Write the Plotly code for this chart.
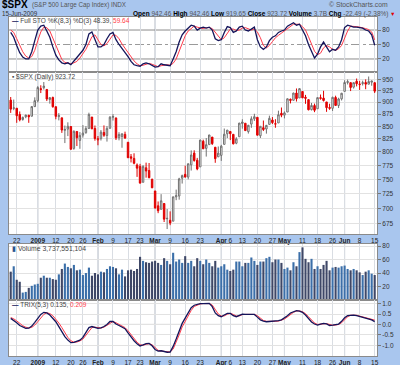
import pandas as pd
import plotly.graph_objects as go

# ---------------- data ----------------
HOLIDAYS = ['2008-12-25', '2009-01-01', '2009-01-19', '2009-02-16', '2009-04-10', '2009-05-25']
dates = [d.strftime('%Y-%m-%d') for d in pd.bdate_range('2008-12-18', '2009-06-15')
         if d.strftime('%Y-%m-%d') not in HOLIDAYS]

opens = [904.36, 886.96, 887.20, 874.31, 863.87, 869.51, 872.37, 870.58, 890.59, 902.99,
         929.17, 931.17, 927.45, 905.73, 909.91, 890.40, 869.79, 867.28, 841.99, 844.45,
         849.64, 806.77, 839.74, 822.16, 832.50, 837.30, 845.73, 868.89, 845.69, 823.09,
         825.69, 837.77, 831.75, 846.09, 868.24, 866.87, 827.41, 829.91, 833.95, 818.61,
         791.06, 787.91, 775.87, 773.25, 744.69, 770.64, 765.76, 749.93, 729.57, 704.44,
         698.60, 708.27, 684.04, 680.76, 679.28, 719.59, 720.89, 751.97, 758.84, 753.88,
         776.01, 797.92, 784.58, 772.31, 820.60, 806.81, 814.06, 828.68, 809.07, 790.88,
         793.59, 814.53, 835.13, 839.75, 834.12, 816.76, 829.29, 855.79, 856.24, 839.44,
         854.54, 865.18, 868.27, 831.25, 847.26, 844.62, 853.91, 862.82, 854.48, 856.85,
         876.59, 872.74, 879.21, 906.10, 903.95, 919.58, 909.03, 922.99, 910.52, 905.40,
         884.24, 892.76, 886.07, 909.67, 908.62, 900.42, 888.68, 887.00, 909.95, 892.96,
         907.02, 923.26, 942.87, 942.51, 932.49, 945.67, 938.12, 940.35, 942.73, 939.04,
         943.44, 942.45]
highs = [911.02, 905.47, 887.37, 880.44, 869.79, 873.74, 873.70, 891.12, 910.32, 934.73,
         936.63, 943.85, 927.45, 910.00, 911.93, 890.40, 877.02, 867.28, 851.59, 858.13,
         849.64, 841.72, 839.74, 838.61, 852.53, 850.45, 877.86, 868.89, 851.66, 830.78,
         842.60, 851.85, 850.55, 870.75, 875.01, 868.05, 838.22, 835.48, 839.43, 818.61,
         796.17, 797.58, 778.69, 777.85, 775.49, 780.12, 779.42, 751.27, 729.57, 711.67,
         724.12, 708.27, 699.09, 695.27, 719.60, 731.92, 752.63, 758.29, 774.53, 778.12,
         803.04, 803.24, 788.91, 823.37, 823.65, 826.78, 832.98, 828.68, 809.07, 810.48,
         813.62, 845.61, 842.50, 839.75, 834.12, 828.42, 856.91, 864.31, 856.24, 852.93,
         870.35, 875.63, 868.27, 850.09, 861.78, 852.87, 871.80, 868.83, 864.48, 882.06,
         888.70, 880.48, 907.85, 907.70, 920.28, 929.58, 930.17, 922.99, 915.57, 905.40,
         898.36, 896.97, 910.00, 916.39, 924.60, 900.42, 896.65, 911.76, 913.84, 909.45,
         920.02, 947.77, 949.38, 942.51, 942.47, 951.69, 946.33, 946.92, 949.77, 956.23,
         946.30, 942.45]
lows = [877.44, 883.02, 857.09, 860.10, 861.44, 866.52, 857.07, 870.58, 889.67, 899.35,
        919.53, 927.28, 902.37, 896.81, 888.31, 864.32, 862.02, 836.93, 817.04, 830.66,
        804.47, 804.30, 811.29, 806.07, 827.69, 835.40, 845.73, 844.15, 821.67, 812.87,
        821.98, 829.18, 819.91, 845.42, 861.65, 822.99, 822.30, 808.06, 825.21, 789.17,
        780.43, 777.03, 754.25, 742.37, 744.69, 752.89, 751.75, 734.52, 699.70, 692.30,
        698.60, 677.93, 666.79, 672.88, 679.28, 713.85, 714.76, 742.46, 753.37, 749.93,
        765.64, 781.82, 766.20, 772.31, 805.48, 791.37, 814.06, 813.43, 779.81, 790.88,
        783.32, 814.53, 826.70, 822.79, 814.53, 814.84, 829.29, 845.35, 840.57, 835.58,
        847.04, 860.87, 832.39, 826.83, 840.57, 835.45, 853.91, 854.65, 847.12, 856.85,
        868.51, 866.10, 879.21, 897.34, 903.95, 901.36, 909.03, 908.68, 896.46, 882.80,
        882.52, 878.94, 886.07, 905.22, 901.37, 879.61, 883.75, 881.46, 891.87, 887.60,
        903.56, 923.26, 938.46, 923.85, 929.32, 934.13, 926.44, 936.15, 927.97, 939.04,
        935.66, 919.65]
closes = [885.28, 887.88, 871.63, 863.16, 868.15, 872.80, 869.42, 890.64, 903.25, 931.80,
          927.45, 934.70, 906.65, 909.73, 890.35, 870.26, 871.79, 842.62, 843.74, 850.12,
          805.22, 840.24, 827.50, 831.95, 836.57, 845.71, 874.09, 845.14, 825.88, 825.44,
          838.51, 832.23, 845.85, 868.60, 869.89, 827.16, 833.74, 835.19, 826.84, 789.17,
          788.42, 778.94, 770.05, 743.33, 773.14, 764.90, 752.83, 735.09, 700.82, 696.33,
          712.87, 682.55, 683.38, 676.53, 719.60, 721.36, 750.74, 756.55, 753.89, 778.12,
          794.35, 784.04, 768.54, 822.92, 806.12, 813.88, 832.86, 815.94, 787.53, 797.87,
          811.08, 834.38, 842.50, 835.48, 815.55, 825.16, 856.56, 858.73, 841.50, 852.06,
          865.30, 869.60, 832.39, 850.08, 843.55, 851.92, 866.23, 857.51, 855.16, 873.64,
          872.81, 877.52, 907.24, 903.80, 919.53, 907.39, 929.23, 909.24, 908.35, 883.92,
          893.07, 882.88, 909.71, 908.13, 903.47, 888.33, 887.00, 910.33, 893.06, 906.83,
          919.14, 942.87, 944.74, 931.76, 942.46, 940.09, 939.14, 942.43, 939.15, 944.89,
          946.21, 923.72]
PREV_CLOSE0 = 904.42

# volume in hundreds of millions (axis units)
volume = [42, 50, 30, 27, 11, 12, 18, 21, 23, 24,
          33, 36, 33, 33, 31, 30, 38, 46, 54, 49,
          47, 52, 44, 45, 37, 40, 48, 36, 40, 38,
          42, 41, 46, 50, 49, 47, 38, 45, 35, 44,
          45, 43, 46, 64, 58, 56, 55, 57, 58, 55,
          52, 62, 58, 53, 70, 57, 60, 55, 65, 55,
          58, 50, 62, 58, 53, 60, 55, 50, 58, 48,
          50, 53, 45, 43, 45, 57, 57, 50, 55, 55,
          63, 58, 52, 57, 57, 62, 64, 56, 60, 60,
          55, 46, 48, 44, 56, 50, 71, 78, 61, 56,
          61, 46, 50, 46, 52, 58, 44, 48, 49, 48,
          50, 51, 46, 44, 46, 44, 41, 37, 42, 44,
          39, 37]

sto_k = [75, 65, 48, 33, 24, 20, 20, 35, 58, 80,
         88, 90, 78, 65, 45, 28, 18, 12, 10, 12,
         8, 15, 22, 30, 38, 50, 72, 76, 60, 45,
         45, 50, 62, 72, 75, 60, 50, 42, 35, 25,
         15, 8, 6, 5, 10, 12, 10, 6, 3, 4,
         10, 8, 7, 6, 20, 35, 55, 70, 78, 85,
         90, 88, 80, 84, 86, 84, 86, 80, 62, 58,
         60, 75, 87, 85, 75, 78, 86, 88, 80, 78,
         82, 86, 60, 45, 40, 45, 58, 65, 68, 75,
         78, 80, 88, 92, 95, 90, 92, 80, 68, 50,
         35, 22, 30, 45, 55, 45, 35, 40, 38, 45,
         60, 85, 90, 88, 86, 86, 85, 84, 80, 78,
         70, 48.39]
sto_d = [80, 75, 62, 48, 35, 26, 22, 25, 38, 58,
         76, 86, 85, 78, 63, 46, 30, 19, 13, 11,
         10, 12, 15, 22, 30, 40, 53, 66, 70, 60,
         50, 47, 52, 61, 70, 69, 62, 51, 42, 34,
         25, 16, 10, 6, 7, 9, 11, 9, 6, 4,
         6, 7, 8, 7, 11, 20, 37, 53, 68, 78,
         84, 88, 86, 84, 83, 85, 85, 83, 76, 67,
         60, 64, 74, 82, 82, 79, 80, 84, 85, 82,
         80, 82, 76, 64, 48, 43, 48, 56, 64, 69,
         74, 78, 82, 87, 92, 92, 92, 87, 80, 66,
         51, 36, 29, 32, 43, 48, 45, 40, 38, 41,
         48, 63, 78, 88, 88, 87, 86, 85, 83, 81,
         76, 59.64]

trix = [0.29, 0.20, 0.08, -0.05, -0.14, -0.19, -0.18, -0.08, 0.10, 0.30,
        0.48, 0.58, 0.55, 0.45, 0.30, 0.13, -0.10, -0.35, -0.58, -0.75,
        -0.87, -0.86, -0.82, -0.75, -0.62, -0.40, -0.15, -0.10, -0.15, -0.19,
        -0.16, -0.10, 0.00, 0.14, 0.14, 0.02, -0.05, -0.11, -0.20, -0.40,
        -0.60, -0.78, -0.92, -1.03, -0.98, -0.92, -0.91, -1.02, -1.20, -1.28,
        -1.26, -1.30, -1.33, -1.32, -1.05, -0.70, -0.30, 0.05, 0.30, 0.55,
        0.80, 0.92, 0.96, 1.00, 1.00, 1.00, 1.01, 0.85, 0.55, 0.42,
        0.37, 0.45, 0.53, 0.53, 0.42, 0.37, 0.45, 0.49, 0.48, 0.47,
        0.49, 0.48, 0.35, 0.22, 0.16, 0.13, 0.14, 0.15, 0.15, 0.18,
        0.22, 0.30, 0.42, 0.55, 0.62, 0.66, 0.64, 0.58, 0.45, 0.28,
        0.12, 0.02, -0.03, 0.02, 0.05, 0.03, -0.05, -0.03, -0.02, 0.02,
        0.15, 0.32, 0.42, 0.45, 0.45, 0.42, 0.38, 0.34, 0.30, 0.27,
        0.22, 0.135]
trix_sig = [0.33, 0.27, 0.17, 0.05, -0.06, -0.13, -0.17, -0.14, -0.03, 0.13,
            0.32, 0.48, 0.56, 0.52, 0.42, 0.27, 0.07, -0.15, -0.40, -0.62,
            -0.78, -0.85, -0.84, -0.79, -0.70, -0.52, -0.30, -0.15, -0.13, -0.16,
            -0.17, -0.13, -0.05, 0.07, 0.14, 0.08, 0.00, -0.08, -0.15, -0.30,
            -0.50, -0.69, -0.85, -0.97, -1.00, -0.95, -0.92, -0.97, -1.11, -1.24,
            -1.27, -1.28, -1.31, -1.32, -1.18, -0.88, -0.50, -0.12, 0.17, 0.42,
            0.67, 0.86, 0.94, 0.98, 1.00, 1.00, 1.00, 0.93, 0.70, 0.50,
            0.40, 0.41, 0.49, 0.53, 0.48, 0.40, 0.41, 0.47, 0.48, 0.48,
            0.48, 0.48, 0.42, 0.29, 0.19, 0.15, 0.14, 0.14, 0.15, 0.16,
            0.20, 0.26, 0.36, 0.48, 0.58, 0.64, 0.65, 0.61, 0.52, 0.37,
            0.20, 0.07, 0.00, 0.00, 0.03, 0.04, -0.01, -0.04, -0.03, 0.00,
            0.08, 0.23, 0.37, 0.44, 0.45, 0.44, 0.40, 0.36, 0.32, 0.28,
            0.25, 0.209]

tick_dates = ['2008-12-22', '2009-01-02', '2009-01-12', '2009-01-20', '2009-01-26', '2009-02-02',
              '2009-02-09', '2009-02-17', '2009-02-23', '2009-03-02', '2009-03-09', '2009-03-16',
              '2009-03-23', '2009-04-01', '2009-04-06', '2009-04-13', '2009-04-20', '2009-04-27',
              '2009-05-01', '2009-05-11', '2009-05-18', '2009-05-26', '2009-06-01', '2009-06-08',
              '2009-06-15']
tick_labels = ['22', '2009', '12', '20', '26', 'Feb', '9', '17', '23', 'Mar', '9', '16', '23',
               'Apr', '6', '13', '20', '27', 'May', '11', '18', '26', 'Jun', '8', '15']
month_starts = ['2009-01-02', '2009-02-02', '2009-03-02', '2009-04-01', '2009-05-01', '2009-06-01']
month_labels = {'2009', 'Feb', 'Mar', 'Apr', 'May', 'Jun'}

price_ticks = [675, 700, 725, 750, 775, 800, 825, 850, 875, 900, 925, 950]
sto_ticks = [20, 50, 80]
vol_ticks = [20, 40, 60, 80]
trix_ticks = [-1.0, -0.5, 0.0, 0.5, 1.0]

n = len(dates)
assert all(len(a) == n for a in [opens, highs, lows, closes, volume, sto_k, sto_d, trix, trix_sig]), n

# ---------------- styling ----------------
W, H = 400, 365
PL, PR, PT, PB = 9, 377, 17, 356
FONT = 'Liberation Sans'
BG = '#a9c6ee'
RED = '#e00000'
GRAY = '#707070'
NAVY = '#14145a'
PINK = '#ff3a4a'


def yfrac(py):
    return (PB - py) / (PB - PT)


def xfrac(px):
    return (px - PL) / (PR - PL)


dom_sto = [yfrac(72), 1.0]
dom_price = [yfrac(234), yfrac(72)]
dom_vol = [yfrac(300), yfrac(244)]
dom_trix = [0.0, yfrac(300)]

prev = [PREV_CLOSE0] + closes[:-1]
down = [c < p for c, p in zip(closes, prev)]

fig = go.Figure()

# price candles: red = close below previous close, gray otherwise; hollow when close > open
for is_down, col, fillc in [(True, RED, RED), (False, GRAY, '#505050')]:
    idx = [i for i in range(n) if down[i] == is_down]
    fig.add_trace(go.Candlestick(
        x=[dates[i] for i in idx], open=[opens[i] for i in idx], high=[highs[i] for i in idx],
        low=[lows[i] for i in idx], close=[closes[i] for i in idx],
        xaxis='x2', yaxis='y2',
        increasing=dict(line=dict(color=col, width=1), fillcolor='white'),
        decreasing=dict(line=dict(color=col, width=1), fillcolor=fillc),
        whiskerwidth=0, showlegend=False, hoverinfo='skip'))

# stochastics
fig.add_trace(go.Scatter(x=dates, y=sto_d, mode='lines', line=dict(color=PINK, width=1),
                         xaxis='x', yaxis='y', showlegend=False, hoverinfo='skip'))
fig.add_trace(go.Scatter(x=dates, y=sto_k, mode='lines', line=dict(color=NAVY, width=1.3),
                         xaxis='x', yaxis='y', showlegend=False, hoverinfo='skip'))

# volume
vcols = ['#3e4767' if d else '#3b6fa9' for d in down]
fig.add_trace(go.Bar(x=dates, y=volume, marker=dict(color=vcols, line=dict(width=0)),
                     xaxis='x3', yaxis='y3', showlegend=False, hoverinfo='skip'))

# TRIX
fig.add_trace(go.Scatter(x=dates, y=trix_sig, mode='lines', line=dict(color=PINK, width=1),
                         xaxis='x4', yaxis='y4', showlegend=False, hoverinfo='skip'))
fig.add_trace(go.Scatter(x=dates, y=trix, mode='lines', line=dict(color=NAVY, width=1.3),
                         xaxis='x4', yaxis='y4', showlegend=False, hoverinfo='skip'))

ticktext = ['<b>%s</b>' % t if t in month_labels else t for t in tick_labels]
xcommon = dict(type='category', categoryorder='array', categoryarray=dates,
               range=[-0.57, n - 1 + 0.77], tickmode='array', tickvals=tick_dates, ticktext=ticktext,
               tickangle=0, automargin=False,
               showgrid=True, gridcolor='#d9dde3', gridwidth=1, showline=True, mirror=True,
               linecolor='#8a8a8a', linewidth=1, ticks='', tickfont=dict(family=FONT, size=6.5, color='#222'),
               fixedrange=True, zeroline=False)
ycommon = dict(side='right', showgrid=True, gridcolor='#e2e2e2', showline=True, mirror=True,
               linecolor='#8a8a8a', ticks='outside', ticklen=3, tickcolor='#777', automargin=False,
               tickfont=dict(family=FONT, size=6.5, color='#333'), zeroline=False, fixedrange=True)

fig.update_layout(
    width=W, height=H, margin=dict(l=PL, r=W - PR, t=PT, b=H - PB),
    paper_bgcolor=BG, plot_bgcolor='white', showlegend=False, bargap=0.3, boxgap=0.3,
    font=dict(family=FONT, size=7, color='#333'),
    xaxis=dict(xcommon, anchor='y', showticklabels=False),
    xaxis2=dict(xcommon, anchor='y2', showticklabels=True, rangeslider=dict(visible=False)),
    xaxis3=dict(xcommon, anchor='y3', showticklabels=False),
    xaxis4=dict(xcommon, anchor='y4', showticklabels=True),
    yaxis=dict(ycommon, domain=dom_sto, range=[-7, 107], tickvals=sto_ticks, showgrid=False),
    yaxis2=dict(ycommon, domain=dom_price, type='log', range=[2.8189, 2.9852], tickvals=price_ticks),
    yaxis3=dict(ycommon, domain=dom_vol, range=[0, 83], tickvals=vol_ticks),
    yaxis4=dict(ycommon, domain=dom_trix, range=[-1.51, 1.17], tickvals=trix_ticks,
                ticktext=['-1.0', '-0.5', '0.0', '0.5', '1.0']),
)

shapes = []
# month separators (darker vertical lines)
for ax, yd in [('x', 'y domain'), ('x2', 'y2 domain'), ('x3', 'y3 domain'), ('x4', 'y4 domain')]:
    for m in month_starts:
        shapes.append(dict(type='line', xref=ax, yref=yd, x0=m, x1=m, y0=0, y1=1,
                           line=dict(color='#a3abb8', width=1), layer='below'))
# stochastic reference lines
for v, dash, col in [(80, 'solid', '#8c8c8c'), (20, 'solid', '#8c8c8c'), (50, 'dashdot', '#9a9a9a')]:
    shapes.append(dict(type='line', xref='x domain', yref='y', x0=0, x1=1, y0=v, y1=v,
                       line=dict(color=col, width=1, dash=dash), layer='below'))
# TRIX zero line
shapes.append(dict(type='line', xref='x4 domain', yref='y4', x0=0, x1=1, y0=0, y1=0,
                   line=dict(color='#8c8c8c', width=1), layer='below'))
fig.update_layout(shapes=shapes)


def ann(text, px, py, size=7, color='#333', xanchor='left'):
    fig.add_annotation(text=text, x=xfrac(px), y=yfrac(py), xref='paper', yref='paper',
                       xanchor=xanchor, yanchor='middle', showarrow=False,
                       font=dict(family=FONT, size=size, color=color))


ann('<b>$SPX</b>', 0, 5, size=10, color='#000')
ann('(S&P 500 Large Cap Index) INDX', 30, 5.5, size=6.3, color='#555')
ann('© StockCharts.com', 390, 5, size=6.8, color='#555', xanchor='right')
ann('15-Jun-2009', 0, 13.8, size=6.3, color='#333')
ann('<b>Open</b> <span style="color:#555">942.46</span> <b>High</b> <span style="color:#555">942.46</span> '
    '<b>Low</b> <span style="color:#555">919.65</span> <b>Close</b> <span style="color:#555">923.72</span> '
    '<b>Volume</b> <span style="color:#555">3.7B</span> <b>Chg</b> <span style="color:#555">-22.49 (-2.38%)</span>',
    390, 13.8, size=6.5, color='#000', xanchor='right')
ann('▼', 397, 13.8, size=5.5, color=RED, xanchor='right')
ann('<span style="color:#14145a"><b>—</b></span> Full STO %K(8,3) %D(3) 48.39, <span style="color:#ff3a4a">59.64</span>',
    10, 21, size=6.5, color='#444')
ann('<b>▪</b> $SPX (Daily) 923.72', 10, 77, size=6.5, color='#444')
ann('<span style="color:#2a5590">▮</span> Volume 3,737,551,104', 10, 248.5, size=6.8, color='#444')
ann('<span style="color:#14145a"><b>—</b></span> TRIX(5,3) 0.135, <span style="color:#ff3a4a">0.209</span>',
    10, 304.5, size=6.5, color='#444')

fig.write_html('out.html', config={'displayModeBar': False},
               post_script="document.body.style.margin='0';")
